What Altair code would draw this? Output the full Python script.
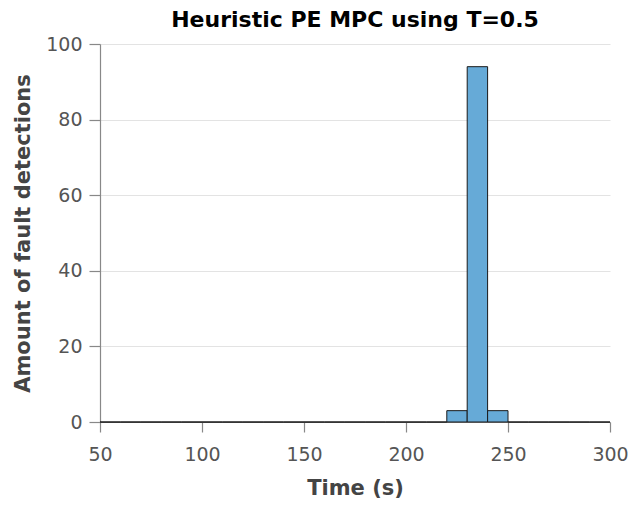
import altair as alt
import pandas as pd

bin_starts = list(range(50, 300, 10))
counts = [0]*17 + [3, 94, 3] + [0]*5
bin_width = 10

df = pd.DataFrame({
    "start": bin_starts,
    "end": [s + bin_width for s in bin_starts],
    "count": counts,
})

FONT = "DejaVu Sans"

chart = alt.Chart(df).mark_bar(
    color="#66aad7", stroke="#1a1a1a", strokeWidth=1, opacity=1
).encode(
    x=alt.X("start:Q", title="Time (s)",
            scale=alt.Scale(domain=[50, 300], nice=False, zero=False),
            axis=alt.Axis(values=[50, 100, 150, 200, 250, 300], grid=False,
                          labelFlush=False, tickSize=10, labelPadding=13,
                          titlePadding=13)),
    x2="end:Q",
    y=alt.Y("count:Q", title="Amount of fault detections",
            scale=alt.Scale(domain=[0, 100], nice=False),
            axis=alt.Axis(values=[0, 20, 40, 60, 80, 100], grid=True,
                          labelFlush=False, tickSize=11, labelPadding=7,
                          titlePadding=12)),
    y2=alt.datum(0),
).properties(
    width=510, height=378,
    title=alt.TitleParams("Heuristic PE MPC using T=0.5", fontSize=22,
                          font=FONT, fontWeight="bold", color="#000000",
                          offset=3),
    autosize=alt.AutoSizeParams(type="none"),
    padding={"left": 100, "top": 44, "right": 20, "bottom": 86},
).configure_view(stroke=None).configure_axis(
    labelFont=FONT, titleFont=FONT, labelFontSize=19, titleFontSize=21,
    labelColor="#555555", titleColor="#444444", titleFontWeight="bold",
    domainColor="#888888", tickColor="#888888", gridColor="#e3e3e3",
    domainWidth=1.2, tickWidth=1.2,
)

chart.save("out.html", embed_options={"renderer": "svg", "actions": False})
